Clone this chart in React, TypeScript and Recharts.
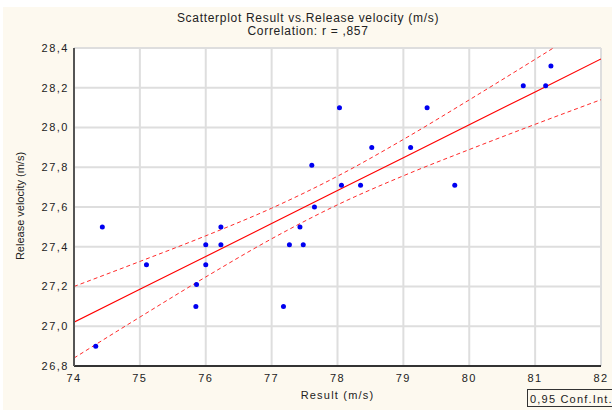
import { ComposedChart, XAxis, YAxis, CartesianGrid, Line, Scatter } from 'recharts';

// observed points
const resultX = [74.33, 74.43, 75.1, 75.85, 75.86, 76.0, 76.0, 76.23, 76.23, 77.18, 77.27, 77.43, 77.48, 77.61, 77.65, 78.03, 78.06, 78.35, 78.52, 79.11, 79.36, 79.78, 80.82, 81.16, 81.24];
const velocityY = [26.9, 27.5, 27.31, 27.1, 27.21, 27.31, 27.41, 27.41, 27.5, 27.1, 27.41, 27.5, 27.41, 27.81, 27.6, 28.1, 27.71, 27.71, 27.9, 27.9, 28.1, 27.71, 28.21, 28.21, 28.31];

// fitted line and 0.95 confidence band, read at each x tick
const bandX = [74, 75, 76, 77, 78, 79, 80, 81, 82];
const fitY = [27.02, 27.186, 27.351, 27.517, 27.683, 27.848, 28.014, 28.179, 28.345];
const upperY = [27.2, 27.326, 27.455, 27.594, 27.755, 27.94, 28.139, 28.343, 28.55];
const lowerY = [26.84, 27.046, 27.248, 27.44, 27.611, 27.757, 27.889, 28.016, 28.14];

const xTicks = [74, 75, 76, 77, 78, 79, 80, 81, 82];
const yTicks = [26.8, 27.0, 27.2, 27.4, 27.6, 27.8, 28.0, 28.2, 28.4];

const points = resultX.map((x, i) => ({ x, y: velocityY[i] }));
const band = bandX.map((x, i) => ({ x, fit: fitY[i], upper: upperY[i], lower: lowerY[i] }));

const font = '"Liberation Sans", Arial, sans-serif';
const tickStyle = { fill: '#222', fontSize: 11, fontFamily: font, letterSpacing: 1.5 };

const Dot = (p: any) => <circle cx={p.cx} cy={p.cy} r={2.5} fill="#0000f0" />;

export default function App() {
  return (
    <div style={{ position: 'absolute', left: 0, top: 0, width: 612, height: 410, background: '#fff', overflow: 'hidden', fontFamily: font }}>
      <div style={{ position: 'absolute', left: 3, top: 7, width: 609, height: 403, background: '#fdf9ef' }} />
      <div style={{ position: 'absolute', left: 0, top: 12, width: 616, textAlign: 'center', fontSize: 12, color: '#222', lineHeight: '13px', letterSpacing: 0.7 }}>
        Scatterplot Result vs.Release velocity (m/s)
        <br />
        Correlation: r = ,857
      </div>
      <div style={{ position: 'absolute', left: 0, top: 0 }}>
        <ComposedChart width={612} height={410} data={band} margin={{ top: 48, right: 11, bottom: 14, left: 0 }}>
          <CartesianGrid fill="#fff" stroke="#dedede" strokeWidth={2} horizontalValues={yTicks} verticalValues={xTicks} />
          <XAxis dataKey="x" type="number" domain={[74, 82]} ticks={xTicks} allowDataOverflow height={30}
            tick={tickStyle} tickSize={0} tickMargin={8} axisLine={{ stroke: '#333', strokeWidth: 2 }} />
          <XAxis xAxisId="top" orientation="top" dataKey="x" type="number" domain={[74, 82]} ticks={xTicks} height={0}
            tickFormatter={() => ''} tickSize={3} mirror axisLine={{ stroke: '#333', strokeWidth: 1 }} tickLine={{ stroke: '#333' }} />
          <YAxis type="number" domain={[26.8, 28.4]} ticks={yTicks} allowDataOverflow width={74}
            tick={tickStyle} tickSize={0} tickMargin={5} tickFormatter={(v: number) => v.toFixed(1).replace('.', ',')}
            axisLine={{ stroke: '#555', strokeWidth: 2 }} />
          <YAxis yAxisId="right" orientation="right" type="number" domain={[26.8, 28.4]} ticks={yTicks} width={0}
            tickFormatter={() => ''} tickSize={3} mirror axisLine={{ stroke: '#444', strokeWidth: 2 }} tickLine={{ stroke: '#333' }} />
          <Line dataKey="upper" type="monotone" stroke="#ff2a2a" strokeWidth={1} strokeDasharray="4 3" dot={false} isAnimationActive={false} />
          <Line dataKey="lower" type="monotone" stroke="#ff2a2a" strokeWidth={1} strokeDasharray="4 3" dot={false} isAnimationActive={false} />
          <Line dataKey="fit" type="linear" stroke="#ff0000" strokeWidth={1.2} dot={false} isAnimationActive={false} />
          <Scatter data={points} dataKey="y" shape={Dot} isAnimationActive={false} />
        </ComposedChart>
      </div>
      <div style={{ position: 'absolute', left: 0, top: 389, width: 675, textAlign: 'center', fontSize: 11, color: '#222', letterSpacing: 1.2 }}>
        Result (m/s)
      </div>
      <div style={{ position: 'absolute', left: 20, top: 207, width: 0, height: 0 }}>
        <div style={{ position: 'absolute', left: -100, top: -7, width: 200, textAlign: 'center', fontSize: 11, color: '#222', transform: 'rotate(-90deg)', whiteSpace: 'nowrap' }}>
          Release velocity (m/s)
        </div>
      </div>
      <div style={{ position: 'absolute', left: 527, top: 389, width: 90, height: 18, border: '1px solid #333', background: '#fdf9ef', fontSize: 11, color: '#222', lineHeight: '18px', paddingLeft: 2, whiteSpace: 'nowrap', boxSizing: 'border-box', letterSpacing: 1.2 }}>
        0,95 Conf.Int.
      </div>
    </div>
  );
}
